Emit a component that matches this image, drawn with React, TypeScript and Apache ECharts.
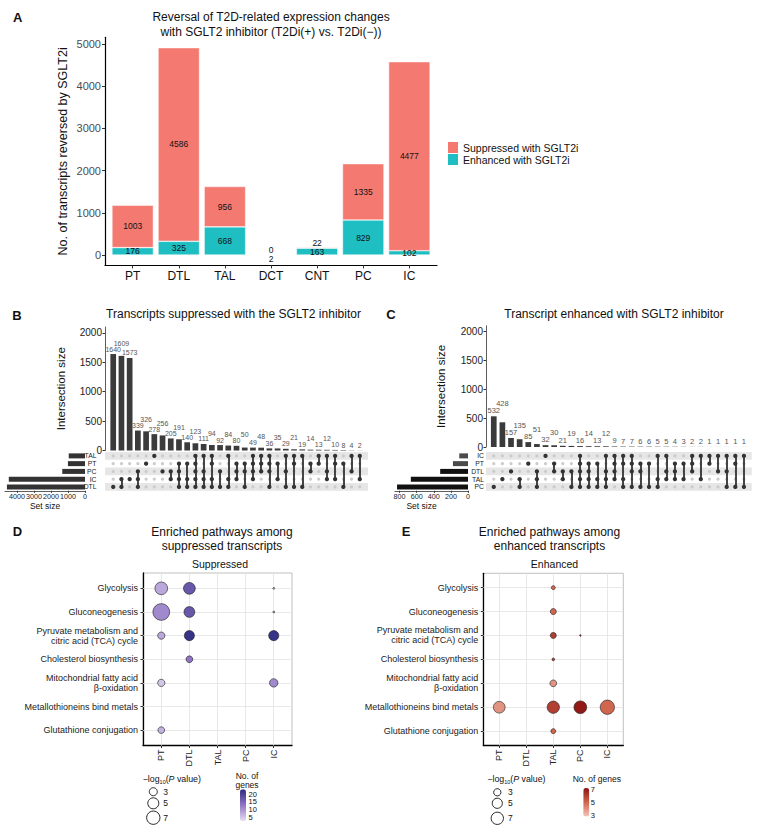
import React, { useEffect, useRef } from "react";
import * as echarts from "echarts";

const FONT = "'Liberation Sans', Arial, Helvetica, sans-serif";

/* ---------------- Panel A ---------------- */
const cellTypesA = ["PT", "DTL", "TAL", "DCT", "CNT", "PC", "IC"];
const suppressedA = [1003, 4586, 956, 0, 22, 1335, 4477];
const enhancedA = [176, 325, 668, 2, 163, 829, 102];
const yTicksA = [0, 1000, 2000, 3000, 4000, 5000];

/* ---------------- Panel B ---------------- */
const setsB = ["TAL", "PT", "PC", "IC", "DTL"];
const setSizesB = [956, 1003, 1335, 4477, 4586];
const intersectionsB = [1640, 1609, 1573, 339, 326, 278, 256, 205, 191, 140, 123, 111, 94, 92, 84, 80, 50, 49, 48, 36, 35, 29, 21, 19, 14, 13, 12, 10, 8, 4, 2];
const combosB = [
  ["DTL"], ["IC", "DTL"], ["IC"], ["PC", "IC", "DTL"], ["PT"], ["TAL"], ["PC"], ["PC", "IC"],
  ["PT", "PC", "IC", "DTL"], ["PT", "IC", "DTL"], ["TAL", "PT", "PC", "IC", "DTL"], ["TAL", "PC", "IC", "DTL"],
  ["TAL", "PT", "IC", "DTL"], ["PC", "DTL"], ["TAL", "IC", "DTL"], ["PT", "PC", "IC"], ["PT", "PC", "DTL"],
  ["TAL", "PT", "PC", "IC"], ["TAL", "PT", "PC"], ["TAL", "PT", "PC", "DTL"], ["PT", "IC"], ["TAL", "PC", "DTL"],
  ["TAL", "PT", "DTL"], ["TAL", "DTL"], ["PT", "PC"], ["TAL", "PT"], ["TAL", "PC", "IC"], ["TAL", "PT", "IC"],
  ["PT", "DTL"], ["TAL", "PC"], ["TAL", "IC"],
];
const yTicksUpset = [0, 500, 1000, 1500, 2000];
const setTicksB = [0, 1000, 2000, 3000, 4000];

/* ---------------- Panel C ---------------- */
const setsC = ["IC", "PT", "DTL", "TAL", "PC"];
const setSizesC = [102, 176, 325, 668, 829];
const intersectionsC = [532, 428, 157, 135, 85, 51, 32, 30, 21, 19, 16, 14, 13, 12, 9, 7, 7, 6, 6, 5, 5, 4, 3, 2, 2, 1, 1, 1, 1, 1];
const combosC = [
  ["PC"], ["TAL"], ["DTL"], ["TAL", "PC"], ["PT"], ["DTL", "TAL", "PC"], ["IC"], ["PT", "DTL"], ["DTL", "TAL"],
  ["DTL", "PC"], ["IC", "PT", "DTL", "TAL", "PC"], ["PT", "DTL", "TAL", "PC"], ["PT", "TAL", "PC"],
  ["IC", "DTL", "TAL", "PC"], ["IC", "PT", "DTL", "TAL"], ["IC", "PT", "TAL", "PC"], ["IC", "PT", "DTL", "PC"],
  ["PT", "DTL", "PC"], ["PT", "PC"], ["IC", "TAL", "PC"], ["IC", "DTL", "TAL"], ["PT", "DTL", "TAL"], ["PT", "TAL"],
  ["IC", "PT", "DTL"], ["IC", "TAL"], ["IC", "PT"], ["IC", "DTL"], ["IC", "DTL", "PC"], ["IC", "PT", "PC"], ["IC", "PC"],
];
const setTicksC = [0, 200, 400, 600, 800];

/* ---------------- Panels D / E ---------------- */
const cellTypesDE = ["PT", "DTL", "TAL", "PC", "IC"];
const pathways = [
  "Glycolysis",
  "Gluconeogenesis",
  "Pyruvate metabolism and\ncitric acid (TCA) cycle",
  "Cholesterol biosynthesis",
  "Mitochondrial fatty acid\nβ-oxidation",
  "Metallothioneins bind metals",
  "Glutathione conjugation",
];
// [cell type, pathway row, -log10(P value), No. of genes]
const suppressedHits: [string, number, number, number][] = [
  ["PT", 0, 6.4, 8], ["DTL", 0, 5.6, 17], ["IC", 0, 1.1, 6],
  ["PT", 1, 10.7, 11], ["DTL", 1, 4.8, 17], ["IC", 1, 1.1, 6],
  ["PT", 2, 2.6, 8], ["DTL", 2, 4.3, 22], ["IC", 2, 4.3, 22],
  ["DTL", 3, 2.35, 13],
  ["PT", 4, 2.6, 5], ["IC", 4, 3.2, 11],
  ["PT", 6, 2.35, 7],
];
const enhancedHits: [string, number, number, number][] = [
  ["TAL", 0, 1.6, 5],
  ["TAL", 1, 2.35, 5],
  ["TAL", 2, 2.35, 6], ["PC", 2, 1.21, 6],
  ["TAL", 3, 1.33, 6],
  ["TAL", 4, 2.7, 4],
  ["PT", 5, 6.4, 4], ["TAL", 5, 7.0, 6], ["PC", 5, 7.4, 7], ["IC", 5, 9.2, 5],
  ["TAL", 6, 1.9, 5],
];
const sizeLegendValues = [3, 5, 7];
const genesTicksD = [20, 15, 10, 5];
const genesTicksE = [7, 5, 3];

const sizeD = (v: number) => 1 + Math.sqrt(Math.max(0, 25.6 * (v - 1.08)));
const sizeE = (v: number) => 1 + Math.sqrt(Math.max(0, 22 * (v - 1.2)));
const idx = (n: number) => Array.from({ length: n }, (_, i) => i);
const plain = (v: number) => String(v);

// simple label repel: a label that collides with its left neighbour is lifted above it
function makeRepel() {
  let prev: any = null;
  return (p: any) => {
    const r = p.labelRect;
    const cx = r.x + r.width / 2;
    const natural = r.y + r.height / 2;
    let cy = natural;
    const h = r.height * 0.85;
    if (p.dataIndex === 0) prev = null;
    if (prev && Math.abs(cx - prev.cx) < (r.width + prev.w) / 2 + 1 && Math.abs(cy - prev.cy) < h) {
      cy = prev.cy - h;
    }
    prev = { cx, cy, w: r.width };
    return { dy: cy - natural };
  };
}

function upsetSeries(sets: string[], sizes: number[], inter: number[], combos: string[][], g: number, setColor: any, labelSize: number) {
  const inactive: number[][] = [];
  const active: number[][] = [];
  const links: any[] = [];
  combos.forEach((c, i) => {
    const rows = c.map((s) => sets.indexOf(s));
    sets.forEach((_, r) => (rows.includes(r) ? active : inactive).push([i, r]));
    if (rows.length > 1) links.push({ coords: [[i, Math.min(...rows)], [i, Math.max(...rows)]] });
  });
  return [
    {
      type: "bar", xAxisIndex: g, yAxisIndex: g, data: inter.map((v, i) => [i, v]), barWidth: 5.7,
      itemStyle: { color: "#3b3b3b" },
      label: { show: true, position: "top", distance: 1.5, fontSize: labelSize, color: "#555", fontFamily: FONT, formatter: (p: any) => p.value[1] },
      labelLayout: makeRepel(),
      silent: true,
    },
    {
      type: "scatter", xAxisIndex: g + 1, yAxisIndex: g + 1, data: inactive, symbolSize: 3.2, z: 2, silent: true,
      itemStyle: { color: "#cccccc", opacity: 1 },
      markArea: {
        silent: true, z: 1, itemStyle: { color: "#e6e6e6" },
        data: [0, 2, 4].map((r) => [{ yAxis: r - 0.5 }, { yAxis: r + 0.5 }]),
      },
    },
    {
      type: "lines", coordinateSystem: "cartesian2d", xAxisIndex: g + 1, yAxisIndex: g + 1, data: links, z: 3, silent: true,
      lineStyle: { color: "#333", width: 1.8, opacity: 1 },
    },
    {
      type: "scatter", xAxisIndex: g + 1, yAxisIndex: g + 1, data: active, symbolSize: 4.3, z: 4, silent: true,
      itemStyle: { color: "#333", opacity: 1 },
    },
    {
      type: "bar", xAxisIndex: g + 2, yAxisIndex: g + 2, data: sizes, barWidth: 5, silent: true,
      itemStyle: { color: setColor },
    },
  ];
}

function upsetAxes(g: number, xmin: number, xmax: number, sets: string[], setMax: number, setTicks: number[], rowMargin: number, nameGap: number, setNamePad: number) {
  const xs = [
    { gridIndex: g, type: "value", min: xmin, max: xmax, show: false },
    { gridIndex: g + 1, type: "value", min: xmin, max: xmax, show: false },
    {
      gridIndex: g + 2, type: "value", inverse: true, min: 0, max: setMax,
      axisLine: { show: true, onZero: false, lineStyle: { color: "#333", width: 0.8 } },
      axisTick: { show: true, customValues: setTicks, length: 2, lineStyle: { color: "#333" } },
      axisLabel: { customValues: setTicks, formatter: plain, fontSize: 7.2, color: "#222", margin: 2, fontFamily: FONT, hideOverlap: false },
      splitLine: { show: false },
      name: "Set size", nameLocation: "middle", nameGap: 11,
      nameTextStyle: { fontSize: 8.5, color: "#111", fontFamily: FONT, padding: [0, setNamePad, 0, 0] },
    },
  ];
  const ys = [
    {
      gridIndex: g, type: "value", min: 0, max: 2100,
      axisLine: { show: true, onZero: false, lineStyle: { color: "#333", width: 0.8 } },
      axisTick: { show: true, customValues: yTicksUpset, length: 2.5, lineStyle: { color: "#333" } },
      axisLabel: { customValues: yTicksUpset, formatter: plain, fontSize: 10, color: "#222", margin: 3, fontFamily: FONT },
      splitLine: { show: false },
      name: "Intersection size", nameLocation: "middle", nameGap,
      nameTextStyle: { fontSize: 11.5, color: "#111", fontFamily: FONT },
    },
    {
      gridIndex: g + 1, type: "value", min: -0.5, max: 4.5, inverse: true,
      axisLine: { show: false }, axisTick: { show: false }, splitLine: { show: false },
      axisLabel: { customValues: idx(5), formatter: (v: number) => sets[v], fontSize: 6.8, color: "#222", margin: rowMargin, fontFamily: FONT },
    },
    { gridIndex: g + 2, type: "category", data: sets, inverse: true, show: false },
  ];
  return { xs, ys };
}

function dotAxes(g: number, xmin: number, xmax: number, ymin: number, ymax: number) {
  return {
    x: {
      gridIndex: g, type: "value", min: xmin, max: xmax,
      axisLine: { show: true, onZero: false, lineStyle: { color: "#000", width: 1.3 } },
      axisTick: { show: true, customValues: idx(5), length: 2.5, lineStyle: { color: "#333" } },
      axisLabel: { customValues: idx(5), formatter: (v: number) => cellTypesDE[v], rotate: 90, fontSize: 9, color: "#222", margin: 4, fontFamily: FONT },
      splitLine: { show: false },
    },
    y: {
      gridIndex: g, type: "value", min: ymin, max: ymax, inverse: true,
      axisLine: { show: true, onZero: false, lineStyle: { color: "#000", width: 1.3 } },
      axisTick: { show: true, customValues: idx(7), length: 2.5, lineStyle: { color: "#333" } },
      axisLabel: { customValues: idx(7), formatter: (v: number) => pathways[v], fontSize: 9, lineHeight: 10, color: "#222", margin: 5, fontFamily: FONT },
      splitLine: { show: false },
    },
  };
}

function dotSeries(hits: [string, number, number, number][], g: number, size: (v: number) => number) {
  return [
    {
      type: "scatter", xAxisIndex: g, yAxisIndex: g, data: [], z: 1, silent: true,
      markLine: {
        silent: true, z: 1, symbol: ["none", "none"], label: { show: false },
        lineStyle: { color: "#e2e2e2", width: 0.8, type: "solid" },
        data: [...cellTypesDE.map((_, i) => ({ xAxis: i })), ...pathways.map((_, j) => ({ yAxis: j }))],
      },
    },
    {
      type: "scatter", xAxisIndex: g, yAxisIndex: g, z: 6, silent: true,
      data: hits.map(([c, r, p, n]) => [cellTypesDE.indexOf(c), r, p, n]),
      symbolSize: (v: number[]) => size(v[2]),
      itemStyle: { borderColor: "#1a1a1a", borderWidth: 0.6, opacity: 1 },
    },
  ];
}

const txt = (x: number, y: number, text: string, fontSize: number, extra: any = {}) => ({
  type: "text", x, y, silent: true,
  style: {
    text, fontSize, fontFamily: FONT, fill: "#111",
    textAlign: "center", textVerticalAlign: "middle", align: "center", verticalAlign: "middle",
    ...extra,
  },
});

export default function App() {
  const ref = useRef<HTMLDivElement>(null);
  useEffect(() => {
    if (!ref.current) return;
    const chart = echarts.init(ref.current, null, { renderer: "svg", width: 765, height: 834 });

    const series: any[] = [];
    // Panel A
    series.push({
      name: "Enhanced with SGLT2i", type: "bar", xAxisIndex: 0, yAxisIndex: 0, stack: "a", encode: { x: 1, y: 0 },
      data: enhancedA.map((v, i) => (v < 10 ? { value: [v, i], label: { offset: [0, 4] } } : { value: [v, i] })),
      barWidth: 41.5, silent: true,
      itemStyle: { color: "#1EBEC2", borderColor: "rgba(255,255,255,0.75)", borderWidth: 0.6 },
      label: { show: true, position: "inside", fontSize: 8.5, color: "#111", fontFamily: FONT, formatter: (p: any) => p.value[0] },
    });
    series.push({
      name: "Suppressed with SGLT2i", type: "bar", xAxisIndex: 0, yAxisIndex: 0, stack: "a", encode: { x: 1, y: 0 },
      data: suppressedA.map((v, i) => (v < 50 ? { value: [v, i], label: { offset: [0, -4.5] } } : { value: [v, i] })),
      barWidth: 41.5, silent: true,
      itemStyle: { color: "#F47A71", borderColor: "rgba(255,255,255,0.75)", borderWidth: 0.6 },
      label: { show: true, position: "inside", fontSize: 8.5, color: "#111", fontFamily: FONT, formatter: (p: any) => p.value[0] },
    });
    // Panels B & C
    series.push(...upsetSeries(setsB, setSizesB, intersectionsB, combosB, 1, "#333", 7));
    series.push(...upsetSeries(setsC, setSizesC, intersectionsC, combosC, 4, (p: any) => (p.dataIndex < 2 ? "#4a4a4a" : "#111"), 7.5));
    // Panels D & E
    series.push(...dotSeries(suppressedHits, 7, sizeD));
    const idxD = series.length - 1;
    series.push(...dotSeries(enhancedHits, 8, sizeE));
    const idxE = series.length - 1;

    const ub = upsetAxes(1, -1, 31, setsB, 4700, setTicksB, 8.5, 38.5, 0);
    const uc = upsetAxes(4, -0.9, 29.9, setsC, 853, setTicksC, 2, 39.5, 20);
    const dd = dotAxes(7, -0.65, 4.65, -0.65, 6.65);
    const de = dotAxes(8, -0.59, 4.59, -0.6, 6.6);

    const gridBase = { outerBoundsMode: "none", containLabel: false };
    const grids = [
      { left: 105, top: 37.3, width: 332, height: 228.1 },
      { left: 105, top: 327, width: 263, height: 123.5 },
      { left: 105, top: 452, width: 263, height: 38.8 },
      { left: 5, top: 452, width: 80, height: 38.8 },
      { left: 486, top: 325.8, width: 265.7, height: 121.2 },
      { left: 486, top: 452, width: 265.7, height: 38.8 },
      { left: 395, top: 452, width: 73, height: 38.8 },
      { left: 143, top: 573, width: 149, height: 172.5, show: true, borderColor: "#b0b0b0", borderWidth: 0.8 },
      { left: 483.3, top: 573.3, width: 140, height: 172.2, show: true, borderColor: "#b0b0b0", borderWidth: 0.8 },
    ].map((g) => ({ ...gridBase, ...g }));

    const xAxes = [
      {
        gridIndex: 0, type: "value", min: -0.6, max: 6.6,
        axisLine: { show: true, onZero: false, lineStyle: { color: "#000", width: 1.2 } },
        axisTick: { show: true, customValues: idx(7), length: 3, lineStyle: { color: "#333" } },
        axisLabel: { customValues: idx(7), formatter: (v: number) => cellTypesA[v], fontSize: 12, color: "#111", margin: 5, fontFamily: FONT },
        splitLine: { show: false },
      },
      ...ub.xs, ...uc.xs, dd.x, de.x,
    ];
    const yAxes = [
      {
        gridIndex: 0, type: "value", min: -245.55, max: 5156.55,
        axisLine: { show: true, onZero: false, lineStyle: { color: "#000", width: 1.2 } },
        axisTick: { show: true, customValues: yTicksA, length: 3, lineStyle: { color: "#333" } },
        axisLabel: { customValues: yTicksA, formatter: plain, fontSize: 11, color: "#4d4d4d", margin: 4, fontFamily: FONT },
        splitLine: { show: false },
        name: "No. of transcripts reversed by SGLT2i", nameLocation: "middle", nameGap: 36,
        nameTextStyle: { fontSize: 12.5, color: "#111", fontFamily: FONT },
      },
      ...ub.ys, ...uc.ys, dd.y, de.y,
    ];

    // legend geometry for D/E colour bars
    const cbD = { left: 240, top: 789.3, h: 31.7, min: 2.6, max: 23.2 };
    const cbE = { left: 583.3, top: 788, h: 28.5, min: 2.9, max: 7.2 };

    const graphics: any[] = [
      txt(17.7, 17.5, "A", 13, { fontWeight: "bold" }),
      txt(17, 315, "B", 13, { fontWeight: "bold" }),
      txt(391, 314, "C", 13, { fontWeight: "bold" }),
      txt(17.5, 531, "D", 13, { fontWeight: "bold" }),
      txt(406, 531, "E", 13, { fontWeight: "bold" }),
      txt(271, 24.5, "Reversal of T2D-related expression changes\nwith SGLT2 inhibitor (T2Di(+) vs. T2Di(−))", 12, { lineHeight: 15.6 }),
      txt(233.5, 314, "Transcripts suppressed with the SGLT2 inhibitor", 12),
      txt(614, 313.5, "Transcript enhanced with SGLT2 inhibitor", 12),
      txt(222, 539, "Enriched pathways among\nsuppressed transcripts", 12, { lineHeight: 14 }),
      txt(549.5, 539, "Enriched pathways among\nenhanced transcripts", 12, { lineHeight: 14 }),
      txt(220, 564, "Suppressed", 10.5),
      txt(554.5, 564, "Enhanced", 10.5),
      txt(247, 780.3, "No. of\ngenes", 8.5, { lineHeight: 9.5 }),
      txt(596.8, 779, "No. of genes", 8.5),
    ];
    const logTitle = (x: number, y: number) => ({
      type: "text", x, y, silent: true,
      style: {
        text: "{a|−log}{s|10}{a|(}{i|P}{a| value)}",
        textAlign: "left", align: "left", textVerticalAlign: "middle", verticalAlign: "middle",
        rich: {
          a: { fontSize: 8.8, fontFamily: FONT, fill: "#111", lineHeight: 12, verticalAlign: "middle" },
          s: { fontSize: 5.5, fontFamily: FONT, fill: "#111", lineHeight: 12, verticalAlign: "bottom" },
          i: { fontSize: 8.8, fontFamily: FONT, fill: "#111", lineHeight: 12, fontStyle: "italic", verticalAlign: "middle" },
        },
      },
    });
    graphics.push(logTitle(142.7, 779), logTitle(487.3, 779));
    const yD = [791.7, 803.3, 817.7];
    const yE = [792.3, 803.3, 818.3];
    sizeLegendValues.forEach((v, k) => {
      graphics.push({ type: "circle", silent: true, shape: { cx: 153.3, cy: yD[k], r: sizeD(v) / 2 }, style: { fill: "none", stroke: "#111", lineWidth: 0.9 } });
      graphics.push(txt(163.3, yD[k], String(v), 8.5, { textAlign: "left", align: "left" }));
      graphics.push({ type: "circle", silent: true, shape: { cx: 497.3, cy: yE[k], r: sizeE(v) / 2 }, style: { fill: "none", stroke: "#111", lineWidth: 0.9 } });
      graphics.push(txt(508, yE[k], String(v), 8.5, { textAlign: "left", align: "left" }));
    });
    genesTicksD.forEach((v) => {
      graphics.push(txt(248.5, cbD.top + ((cbD.max - v) / (cbD.max - cbD.min)) * cbD.h, String(v), 7.5, { textAlign: "left", align: "left" }));
    });
    genesTicksE.forEach((v) => {
      graphics.push(txt(590.7, cbE.top + ((cbE.max - v) / (cbE.max - cbE.min)) * cbE.h, String(v), 7.5, { textAlign: "left", align: "left" }));
    });

    chart.setOption({
      animation: false,
      textStyle: { fontFamily: FONT },
      grid: grids,
      xAxis: xAxes,
      yAxis: yAxes,
      legend: {
        data: ["Suppressed with SGLT2i", "Enhanced with SGLT2i"],
        orient: "vertical", left: 448, top: 142, padding: 0,
        itemWidth: 10, itemHeight: 11, itemGap: 1, icon: "rect", selectedMode: false,
        itemStyle: { borderWidth: 0 },
        textStyle: { fontSize: 10.5, color: "#111", fontFamily: FONT },
      },
      visualMap: [
        {
          type: "continuous", seriesIndex: idxD, dimension: 3, min: cbD.min, max: cbD.max,
          inRange: { color: ["#e6def3", "#9276c6", "#2a2a80"] },
          calculable: false, show: true, left: cbD.left, top: cbD.top, itemWidth: 6, itemHeight: cbD.h, padding: 0, hoverLink: false,
        },
        {
          type: "continuous", seriesIndex: idxE, dimension: 3, min: cbE.min, max: cbE.max,
          inRange: { color: ["#f2c6ba", "#d0644c", "#8a1212"] },
          calculable: false, show: true, left: cbE.left, top: cbE.top, itemWidth: 6, itemHeight: cbE.h, padding: 0, hoverLink: false,
        },
      ],
      graphic: { elements: graphics },
      series,
    });
    return () => chart.dispose();
  }, []);
  return <div ref={ref} style={{ position: "absolute", left: 0, top: 0, width: 765, height: 834 }} />;
}
